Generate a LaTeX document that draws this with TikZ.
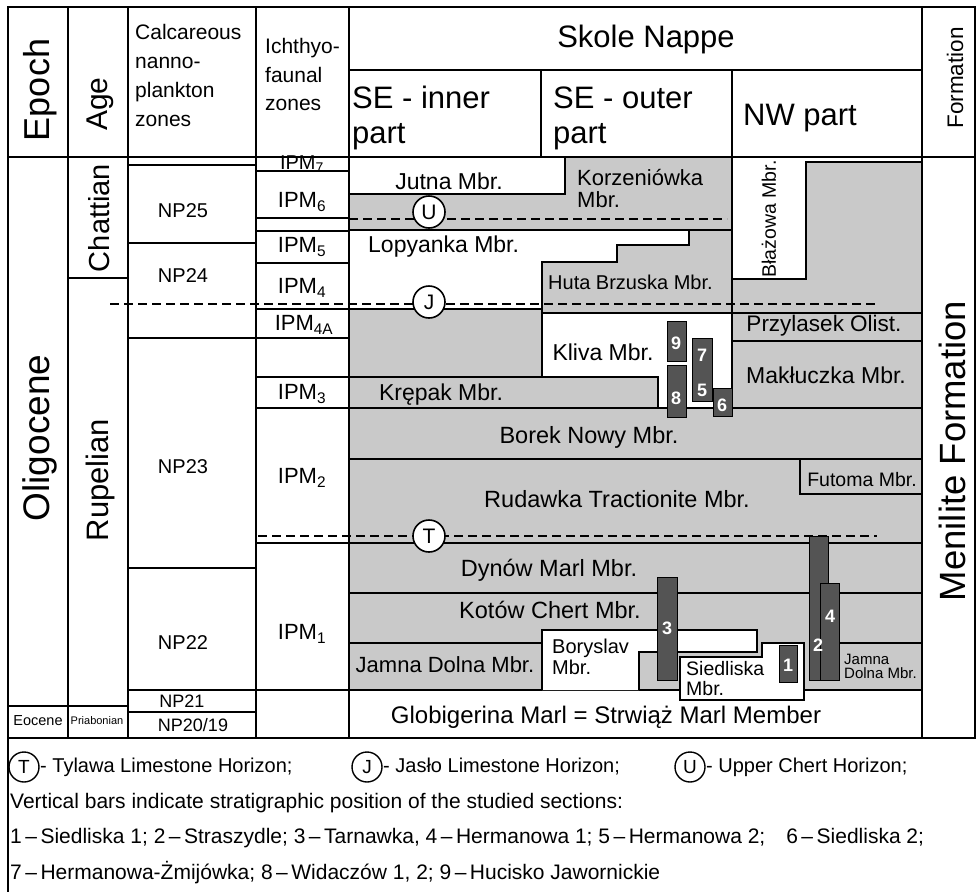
\documentclass[tikz,border=0pt]{standalone}
\usepackage{fontspec}
\setmainfont{Liberation Sans}
\newcommand{\fsz}[1]{\fontsize{#1}{#1}\selectfont}
\definecolor{lg}{gray}{0.79}
\definecolor{bargrey}{gray}{0.33}
\begin{document}
\begin{tikzpicture}[x=1pt,y=-1pt,
  ln/.style={draw=black,line width=2pt},
  hzn/.style={draw=black,line width=2pt,dash pattern=on 9pt off 5pt},
  txt/.style={inner sep=0pt,text=black},
  bartxt/.style={inner sep=0pt,text=white,font=\bfseries\fsz{18}},
  hcirc/.style={circle,draw=black,line width=1.6pt,fill=white,minimum size=32pt,inner sep=0pt,font=\fsz{21}},
  lcirc/.style={circle,draw=black,line width=1.4pt,fill=white,minimum size=30pt,inner sep=0pt,font=\fsz{19}},
  secbar/.style={fill=bargrey,draw=black,line width=1pt},
]
\useasboundingbox (0,0) rectangle (978,892);
\fill[white] (0,0) rectangle (978,892);

% ---------- shading of the Skole Nappe area
\fill[lg] (349,157) rectangle (922,690);
\fill[white] (349,157) rectangle (565,194);
\fill[white] (349,230) -- (689,230) -- (689,245) -- (617,245) -- (617,262) -- (542,262) -- (542,309) -- (349,309) -- cycle;
\fill[white] (542,313) -- (732,313) -- (732,408) -- (658,408) -- (658,377) -- (542,377) -- cycle;
\fill[white] (732,157) rectangle (806,279);
\fill[white] (806,157) rectangle (922,162);

% ---------- frame and columns
\draw[ln] (8,7) rectangle (975,738);
\draw[ln] (349,70) -- (922,70);
\draw[line width=2.6pt] (8,157) -- (975,157);
\draw[ln] (68,7) -- (68,738);
\draw[ln] (128,7) -- (128,738);
\draw[ln] (256,7) -- (256,738);
\draw[ln] (349,7) -- (349,738);
\draw[ln] (541,70) -- (541,157);
\draw[ln] (732,70) -- (732,408);
\draw[ln] (922,7) -- (922,738);

% ---------- left columns rows
\draw[ln] (128,165) -- (256,165);
\draw[ln] (128,243) -- (256,243);
\draw[ln] (68,278) -- (128,278);
\draw[ln] (128,338) -- (256,338);
\draw[ln] (128,568) -- (256,568);
\draw[ln] (128,690) -- (922,690);
\draw[ln] (8,706) -- (128,706);
\draw[ln] (128,712) -- (256,712);

% ---------- ichthyofaunal rows
\draw[ln] (256,171) -- (349,171);
\draw[ln] (256,218) -- (349,218);
\draw[ln] (256,231) -- (349,231);
\draw[ln] (256,263) -- (349,263);
\draw[ln] (256,309) -- (542,309);
\draw[ln] (256,338) -- (349,338);
\draw[ln] (256,377) -- (349,377);
\draw[ln] (256,408) -- (349,408);
\draw[ln] (256,543) -- (922,543);

% ---------- Skole Nappe boundaries
\draw[ln] (565,157) -- (565,194) -- (349,194);
\draw[ln] (349,230) -- (732,230);
\draw[ln] (689,230) -- (689,245) -- (617,245) -- (617,262) -- (542,262) -- (542,377);
\draw[ln] (542,313) -- (922,313);
\draw[ln] (732,279) -- (806,279) -- (806,162) -- (922,162);
\draw[ln] (732,341) -- (922,341);
\draw[ln] (349,377) -- (658,377) -- (658,408);
\draw[ln] (349,408) -- (922,408);
\draw[ln] (349,459) -- (922,459);
\draw[ln] (800,459) -- (800,494) -- (922,494);
\draw[ln] (349,593) -- (922,593);
\draw[ln] (349,643) -- (542,643);
\draw[ln] (839,643) -- (922,643);
\draw[ln,fill=white] (542,690) -- (542,630) -- (757,630) -- (757,652) -- (639,652) -- (639,690);
\draw[ln,fill=white] (680,657) -- (762,657) -- (762,643) -- (804,643) -- (804,700) -- (680,700) -- cycle;

% ---------- horizons
\draw[hzn] (349,219) -- (727,219);
\draw[hzn] (110,304) -- (877,304);
\draw[hzn] (258,536) -- (877,536);

% ---------- studied sections (bars)
\filldraw[secbar] (657,577) rectangle (677,680);
\filldraw[secbar] (779,645) rectangle (797,682);
\filldraw[secbar] (809,536) rectangle (828,680);
\filldraw[secbar] (820,583) rectangle (839,680);
\filldraw[secbar] (667,321) rectangle (686,361);
\filldraw[secbar] (667,365) rectangle (686,417);
\filldraw[secbar] (692,338) rectangle (712,401);
\filldraw[secbar] (713,388) rectangle (732,416);
\node[bartxt] (b3) at (667,628) {3};
\node[bartxt] (b1) at (788,665) {1};
\node[bartxt] (b2) at (818,645) {2};
\node[bartxt] (b4) at (830,616) {4};
\node[bartxt] (b9) at (676,343) {9};
\node[bartxt] (b8) at (676,398) {8};
\node[bartxt] (b7) at (702,355) {7};
\node[bartxt] (b5) at (702,390) {5};
\node[bartxt] (b6) at (722,405) {6};

\node[hcirc] (hu) at (429,212) {U};
\node[hcirc] (hj) at (429,302) {J};
\node[hcirc] (ht) at (429,536) {T};

% ---------- header texts
\node[txt,rotate=90,font=\fsz{36}] (epoch) at (40,90) {Epoch};
\node[txt,rotate=90,font=\fsz{30}] (age) at (100,104) {Age};
\node[txt,anchor=base west,font=\fsz{21}] (c1) at (135,39) {Calcareous};
\node[txt,anchor=base west,font=\fsz{21}] (c2) at (135,68) {nanno-};
\node[txt,anchor=base west,font=\fsz{21}] (c3) at (135,97) {plankton};
\node[txt,anchor=base west,font=\fsz{21}] (c4) at (135,126) {zones};
\node[txt,anchor=base west,font=\fsz{21}] (i1) at (265,53) {Ichthyo-};
\node[txt,anchor=base west,font=\fsz{21}] (i2) at (265,82) {faunal};
\node[txt,anchor=base west,font=\fsz{21}] (i3) at (265,110) {zones};
\node[txt,anchor=base,font=\fsz{31}] (skole) at (646,47) {Skole Nappe};
\node[txt,anchor=base west,font=\fsz{31}] (sei1) at (352,108) {SE - inner};
\node[txt,anchor=base west,font=\fsz{31}] (sei2) at (352,143) {part};
\node[txt,anchor=base west,font=\fsz{31}] (seo1) at (553,108) {SE - outer};
\node[txt,anchor=base west,font=\fsz{31}] (seo2) at (553,143) {part};
\node[txt,anchor=base west,font=\fsz{31}] (nw) at (743,125) {NW part};
\node[txt,rotate=90,font=\fsz{22.5}] (form) at (955,78) {Formation};

% ---------- chronostratigraphy
\node[txt,rotate=90,font=\fsz{37}] (olig) at (40,438) {Oligocene};
\node[txt,rotate=90,font=\fsz{29}] (chat) at (99,218) {Chattian};
\node[txt,rotate=90,font=\fsz{31}] (rup) at (100,480) {Rupelian};
\node[txt,font=\fsz{14.5}] (eoc) at (38,721) {Eocene};
\node[txt,font=\fsz{11}] (pria) at (97,721) {Priabonian};

\node[txt,font=\fsz{20}] (np25) at (183,211) {NP25};
\node[txt,font=\fsz{20}] (np24) at (183,276) {NP24};
\node[txt,font=\fsz{20}] (np23) at (183,467) {NP23};
\node[txt,font=\fsz{20}] (np22) at (183,643) {NP22};
\node[txt,font=\fsz{18}] (np21) at (182,701) {NP21};
\node[txt,font=\fsz{18}] (np20) at (193,725) {NP20/19};

\node[txt,font=\fsz{20}] (ipm7) at (302,164) {IPM\textsubscript{7}};
\node[txt,font=\fsz{22}] (ipm6) at (302,202) {IPM\textsubscript{6}};
\node[txt,font=\fsz{22}] (ipm5) at (302,247) {IPM\textsubscript{5}};
\node[txt,font=\fsz{22}] (ipm4) at (302,288) {IPM\textsubscript{4}};
\node[txt,font=\fsz{22}] (ipm4a) at (304,325) {IPM\textsubscript{4A}};
\node[txt,font=\fsz{22}] (ipm3) at (302,394) {IPM\textsubscript{3}};
\node[txt,font=\fsz{22}] (ipm2) at (302,478) {IPM\textsubscript{2}};
\node[txt,font=\fsz{22}] (ipm1) at (302,634) {IPM\textsubscript{1}};

% ---------- members
\node[txt,font=\fsz{23}] (jutna) at (449,181) {Jutna Mbr.};
\node[txt,anchor=west,font=\fsz{22}] (korz1) at (577,178) {Korzeniówka};
\node[txt,anchor=west,font=\fsz{22}] (korz2) at (577,200) {Mbr.};
\node[txt,anchor=west,font=\fsz{23}] (lopy) at (368,247) {Lopyanka Mbr.};
\node[txt,anchor=west,font=\fsz{20}] (huta) at (548,282) {Huta Brzuska Mbr.};
\node[txt,rotate=90,font=\fsz{19.5}] (blaz) at (769,219) {Błażowa Mbr.};
\node[txt,font=\fsz{22.5}] (przy) at (824,326) {Przylasek Olist.};
\node[txt,font=\fsz{23}] (makl) at (826,375) {Makłuczka Mbr.};
\node[txt,font=\fsz{23}] (kliva) at (603,352) {Kliva Mbr.};
\node[txt,font=\fsz{23}] (krep) at (441,395) {Krępak Mbr.};
\node[txt,font=\fsz{23.5}] (borek) at (589,437) {Borek Nowy Mbr.};
\node[txt,font=\fsz{23.5}] (rudaw) at (617,499) {Rudawka Tractionite Mbr.};
\node[txt,font=\fsz{19.5}] (futo) at (862,480) {Futoma Mbr.};
\node[txt,font=\fsz{23.5}] (dynow) at (549,570) {Dynów Marl Mbr.};
\node[txt,font=\fsz{23.5}] (kotow) at (550,610) {Kotów Chert Mbr.};
\node[txt,font=\fsz{22}] (jamna) at (445,665) {Jamna Dolna Mbr.};
\node[txt,anchor=west,font=\fsz{20}] (bor1) at (552,648) {Boryslav};
\node[txt,anchor=west,font=\fsz{20}] (bor2) at (552,667) {Mbr.};
\node[txt,anchor=west,font=\fsz{19.5}] (sie1) at (686,669) {Siedliska};
\node[txt,anchor=west,font=\fsz{19.5}] (sie2) at (686,689) {Mbr.};
\node[txt,anchor=west,font=\fsz{15}] (jam1) at (844,659) {Jamna};
\node[txt,anchor=west,font=\fsz{15}] (jam2) at (844,673) {Dolna Mbr.};
\node[txt,font=\fsz{24}] (glob) at (606,717) {Globigerina Marl = Strwiąż Marl Member};
\node[txt,rotate=90,font=\fsz{36.5}] (menil) at (952,451) {Menilite Formation};

% ---------- legend
\draw[ln] (8,738) -- (8,892);
\node[lcirc] (lt) at (24,767) {T};
\node[txt,anchor=west,font=\fsz{20}] (ltt) at (40,767) {- Tylawa Limestone Horizon;};
\node[lcirc] (lj) at (367,767) {J};
\node[txt,anchor=west,font=\fsz{20}] (ljt) at (383,767) {- Jasło Limestone Horizon;};
\node[lcirc] (lu) at (690,767) {U};
\node[txt,anchor=west,font=\fsz{20}] (lut) at (706,767) {- Upper Chert Horizon;};
\node[txt,anchor=west,font=\fsz{21}] (leg2) at (10,803) {Vertical bars indicate stratigraphic position of the studied sections:};
\node[txt,anchor=west,font=\fsz{21}] (leg3) at (10,838) {1\,–\,Siedliska 1; 2\,–\,Straszydle; 3\,–\,Tarnawka, 4\,–\,Hermanowa 1; 5\,–\,Hermanowa 2;\quad 6\,–\,Siedliska 2;};
\node[txt,anchor=west,font=\fsz{21}] (leg4) at (10,873) {7\,–\,Hermanowa-Żmijówka; 8\,–\,Widaczów 1, 2; 9\,–\,Hucisko Jawornickie};
\end{tikzpicture}
\end{document}
